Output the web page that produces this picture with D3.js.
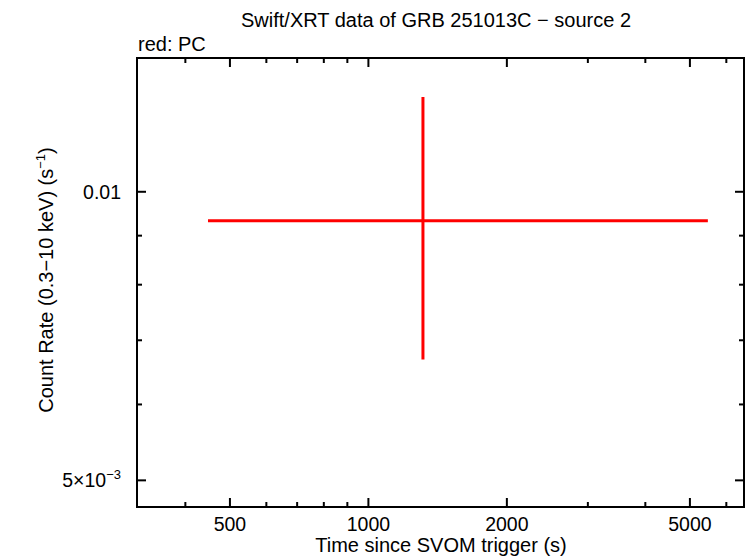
<!DOCTYPE html>
<html><head><meta charset="utf-8">
<script src="https://cdn.jsdelivr.net/npm/d3@7/dist/d3.min.js"></script>
<style>body{margin:0;background:#fff}svg{display:block}text{font-family:"Liberation Sans",Arial,sans-serif}</style>
</head><body>
<svg id="c" width="746" height="558"></svg>
<script>
// data (PC mode)
const times = [1314];
const timeLo = [448];
const timeHi = [5470];
const rates = [0.009328];
const rateLo = [0.006683];
const rateHi = [0.01256];
const xMajorTicks = [500, 1000, 2000, 5000];
const xTickLabels = ["500", "1000", "2000", "5000"];
const xMinorTicks = [400, 600, 700, 800, 900, 3000, 4000, 6000];
const yMajorTicks = [0.01, 0.005];
const yMinorTicks = [0.006, 0.007, 0.008, 0.009];

const svg = d3.select("#c");
const L = 137, R = 744, T = 58, B = 507;
const x = d3.scaleLog().domain([314, 6555]).range([L, R]);
const y = d3.scaleLog().domain([0.00469, 0.01379]).range([B, T]);

// ticks
const g = svg.append("g").attr("stroke", "#000").attr("stroke-width", 2);
function xt(v, len) {
  g.append("line").attr("x1", x(v)).attr("x2", x(v)).attr("y1", B).attr("y2", B - len);
  g.append("line").attr("x1", x(v)).attr("x2", x(v)).attr("y1", T).attr("y2", T + len);
}
function yt(v, len) {
  g.append("line").attr("y1", y(v)).attr("y2", y(v)).attr("x1", L).attr("x2", L + len);
  g.append("line").attr("y1", y(v)).attr("y2", y(v)).attr("x1", R).attr("x2", R - len);
}
xMajorTicks.forEach(v => xt(v, 9));
xMinorTicks.forEach(v => xt(v, 5));
yMajorTicks.forEach(v => yt(v, 9));
yMinorTicks.forEach(v => yt(v, 5));

// frame
svg.append("rect").attr("x", L).attr("y", T).attr("width", R - L).attr("height", B - T)
  .attr("fill", "none").attr("stroke", "#000").attr("stroke-width", 2);

// x tick labels
xMajorTicks.forEach((v, i) => {
  svg.append("text").attr("x", x(v)).attr("y", 531).attr("text-anchor", "middle")
    .attr("font-size", 19.5).text(xTickLabels[i]);
});
// y tick labels
svg.append("text").attr("x", 121).attr("y", y(0.01) + 7).attr("text-anchor", "end")
  .attr("font-size", 19.5).text("0.01");
const t5 = svg.append("text").attr("x", 121).attr("y", y(0.005) + 7).attr("text-anchor", "end").attr("font-size", 19.5);
t5.append("tspan").text("5×10");
t5.append("tspan").attr("font-size", 13).attr("dy", -8).text("−3");

// data
const d = times.map((t, i) => ({t, lo: timeLo[i], hi: timeHi[i], r: rates[i], rlo: rateLo[i], rhi: rateHi[i]}));
const dg = svg.append("g").attr("stroke", "#ff0000").attr("stroke-width", 3);
d.forEach(p => {
  dg.append("line").attr("x1", x(p.lo)).attr("x2", x(p.hi)).attr("y1", y(p.r)).attr("y2", y(p.r));
  dg.append("line").attr("x1", x(p.t)).attr("x2", x(p.t)).attr("y1", y(p.rlo)).attr("y2", y(p.rhi));
});

// titles
svg.append("text").attr("x", 436).attr("y", 27).attr("text-anchor", "middle").attr("font-size", 20)
  .text("Swift/XRT data of GRB 251013C − source 2");
svg.append("text").attr("x", 138).attr("y", 51).attr("font-size", 20).text("red: PC");
svg.append("text").attr("x", 441).attr("y", 552).attr("text-anchor", "middle").attr("font-size", 20)
  .text("Time since SVOM trigger (s)");
const yl = svg.append("text").attr("transform", "translate(53,280) rotate(-90)").attr("text-anchor", "middle").attr("font-size", 20);
yl.append("tspan").text("Count Rate (0.3−10 keV) (s");
yl.append("tspan").attr("font-size", 13).attr("dy", -8).text("−1");
yl.append("tspan").attr("dy", 8).text(")");
</script>
</body></html>
